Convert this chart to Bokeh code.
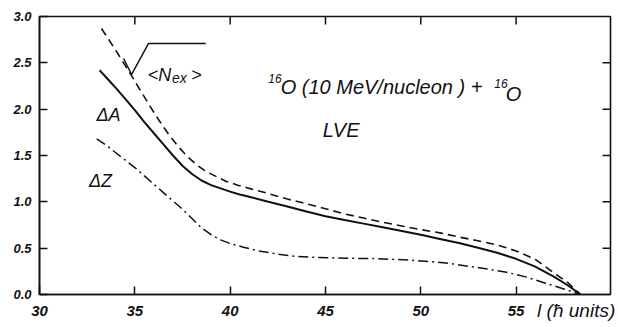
from bokeh.plotting import figure
from bokeh.models import Range1d, LinearAxis, FixedTicker, Label, CustomJSTickFormatter
from bokeh.embed import file_html
from bokeh.resources import INLINE

# Data (l in hbar units)
l_dA = [33.15, 33.6, 34.0, 34.5, 35.0, 35.5, 36.0, 36.5, 37.0, 37.5, 38.0, 38.5, 39.0, 39.5, 40.0, 40.5, 41.0,
        42.0, 43.0, 44.0, 45.0, 46.0, 47.0, 48.0, 49.0, 50.0, 51.0, 52.0, 53.0, 54.0, 55.0, 56.0, 57.0, 57.7, 58.38]
dA = [2.42, 2.32, 2.23, 2.11, 1.99, 1.86, 1.74, 1.62, 1.50, 1.39, 1.30, 1.23, 1.18, 1.145, 1.11, 1.08, 1.055,
      1.00, 0.95, 0.895, 0.845, 0.805, 0.765, 0.725, 0.685, 0.645, 0.60, 0.555, 0.505, 0.45, 0.385, 0.30, 0.19, 0.10, 0.0]

l_nex = [33.25, 33.7, 34.2, 34.77, 35.3, 35.8, 36.3, 36.8, 37.3, 37.8, 38.3, 38.8, 39.3, 39.8, 40.4, 41.0,
         42.0, 43.0, 44.0, 45.0, 46.0, 47.0, 48.0, 49.0, 50.0, 51.0, 52.0, 53.0, 54.0, 55.0, 56.0, 57.0, 57.7, 58.38]
sqrt_nex = [2.87, 2.73, 2.57, 2.38, 2.20, 2.03, 1.87, 1.72, 1.59, 1.48, 1.39, 1.32, 1.27, 1.22, 1.18, 1.145,
            1.09, 1.03, 0.98, 0.925, 0.87, 0.825, 0.78, 0.74, 0.70, 0.665, 0.62, 0.58, 0.535, 0.47, 0.38, 0.23, 0.13, 0.0]

l_dZ = [33.0, 33.5, 34.0, 34.5, 35.0, 35.5, 36.0, 36.5, 37.0, 37.5, 38.0, 38.5, 39.0, 39.5, 40.0, 40.7, 41.5,
        42.5, 43.5, 44.5, 45.5, 46.5, 47.5, 48.5, 49.5, 50.5, 51.5, 52.5, 53.5, 54.5, 55.5, 56.5, 57.5, 58.38]
dZ = [1.68, 1.61, 1.53, 1.45, 1.37, 1.28, 1.19, 1.10, 1.01, 0.92, 0.82, 0.72, 0.645, 0.59, 0.55, 0.51, 0.47,
      0.435, 0.41, 0.40, 0.395, 0.39, 0.388, 0.38, 0.37, 0.355, 0.335, 0.305, 0.275, 0.24, 0.19, 0.125, 0.06, 0.0]

x_ticks = [30, 35, 40, 45, 50, 55]
y_ticks = [0.0, 0.5, 1.0, 1.5, 2.0, 2.5, 3.0]
x_title = "l (ħ units)"

X0, X1, Y0, Y1 = 30, 59.95, 0.0, 3.0

INK = "#111111"
FONT = "Liberation Sans"

p = figure(width=621, height=327, output_backend="svg", toolbar_location=None,
           x_range=Range1d(X0, X1), y_range=Range1d(Y0, Y1),
           x_axis_location=None, y_axis_location=None,
           min_border_left=39, min_border_right=11, min_border_top=16, min_border_bottom=33)
p.grid.visible = False
p.background_fill_color = "white"
p.border_fill_color = "white"
p.outline_line_color = INK
p.outline_line_width = 1.6

def style(ax, size, standoff):
    ax.axis_line_color = INK
    ax.axis_line_width = 1.6
    ax.major_tick_line_color = INK
    ax.major_tick_line_width = 1.5
    ax.major_tick_in = 8
    ax.major_tick_out = 0
    ax.minor_tick_line_color = None
    ax.major_label_text_font = FONT
    ax.major_label_text_font_style = "bold italic"
    ax.major_label_text_font_size = size
    ax.major_label_text_color = INK
    ax.major_label_standoff = standoff

xb = LinearAxis(ticker=FixedTicker(ticks=x_ticks))
style(xb, "15px", 11)
# the axis label is centred on the frame's right end; non-breaking spaces
# shift its visible part to the left so that it ends near the frame edge
xb.axis_label = x_title + "\u00a0" * 13
xb.axis_label_text_font = FONT
xb.axis_label_text_font_style = "italic"
xb.axis_label_text_font_size = "19px"
xb.axis_label_text_color = INK
xb.axis_label_standoff = -19
xb.axis_label_align = "end"
p.add_layout(xb, "below")

yl = LinearAxis(ticker=FixedTicker(ticks=y_ticks))
yl.formatter = CustomJSTickFormatter(code="return tick.toFixed(1);")
style(yl, "13px", 8)
p.add_layout(yl, "left")

# inward ticks on the top and right frame edges (8 px long)
tx = [t for t in x_ticks if X0 < t < X1]
ty = [t for t in y_ticks if Y0 < t < Y1]
dy = 8 * (Y1 - Y0) / 278.0
dx = 8 * (X1 - X0) / 571.0
p.segment(x0=tx, y0=[Y1] * len(tx), x1=tx, y1=[Y1 - dy] * len(tx), line_color=INK, line_width=1.5)
p.segment(x0=[X1] * len(ty), y0=ty, x1=[X1 - dx] * len(ty), y1=ty, line_color=INK, line_width=1.5)

# curves
p.line(l_nex, sqrt_nex, line_color=INK, line_width=1.6, line_dash="8 5")
p.line(l_dA, dA, line_color=INK, line_width=2.0)
p.line(l_dZ, dZ, line_color=INK, line_width=1.5, line_dash="10 4 2 4")

# radical sign of sqrt(<N_ex>)
p.line([34.41, 34.83, 35.72, 38.72], [2.547, 2.374, 2.709, 2.709], line_color=INK, line_width=1.5)

def lab(x, y, t, size, align="left", baseline="alphabetic", style="italic"):
    p.add_layout(Label(x=x, y=y, text=t, text_font=FONT, text_font_style=style,
                       text_font_size=size, text_color=INK, text_align=align,
                       text_baseline=baseline))

# <N_ex>
lab(35.68, 2.37, "<N", "18px")
lab(36.95, 2.34, "ex", "14px")
lab(37.95, 2.37, ">", "18px")

lab(33.62, 1.94, "ΔA", "18px", "center", "middle")
lab(33.2, 1.23, "ΔZ", "18px", "center", "middle")

# reaction label
lab(42.0, 2.33, "16", "12px")
lab(42.65, 2.234, "O (10 MeV/nucleon ) +", "20px")
lab(53.85, 2.28, "16", "12px")
lab(54.45, 2.16, "O", "20px")
lab(44.86, 1.78, "LVE", "20px")

open("out.html", "w").write(file_html(p, INLINE))
